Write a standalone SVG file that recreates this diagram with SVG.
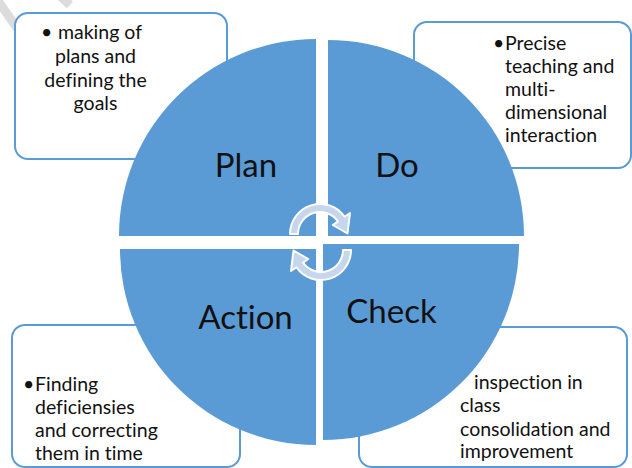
<svg xmlns="http://www.w3.org/2000/svg" width="632" height="468" viewBox="0 0 632 468">
  <defs>
    <style>
      .box { fill: #ffffff; stroke: #5b9bd5; stroke-width: 2; }
      .quad { fill: #5b9bd5; }
      .lbl { font-family: Lato, "Open Sans", "Liberation Sans", sans-serif; font-size: 33px; fill: #111111; text-anchor: middle; font-variant-ligatures: none; }
      .txt { font-family: Lato, "Open Sans", "Liberation Sans", sans-serif; font-size: 19.5px; fill: #111111; font-variant-ligatures: none; }
      .mid { text-anchor: middle; }
      .cyc { fill: #c6d6ed; stroke: #ffffff; stroke-width: 2; stroke-linejoin: round; }
      .mark { stroke: #dcdcdc; stroke-width: 9; fill: none; }
    </style>
    <!-- curved arrow band, centred on its arc centre -->
    <path id="cycle-arrow" d="M -30 0 A 30 30 0 0 1 24.6 -17.2 L 30 -21 L 27.5 -0.5 L 12.8 -9 L 18 -12.6 A 22 22 0 0 0 -22 0 Z"/>
  </defs>

  <rect width="632" height="468" fill="#ffffff"/>

  <!-- faint stray strokes in the upper-left corner -->
  <line class="mark" x1="-4" y1="-2" x2="24" y2="38"/>
  <line class="mark" x1="60" y1="-4" x2="70" y2="5"/>

  <!-- callout boxes (behind the wheel) -->
  <g id="note-plan">
    <rect class="box" x="15" y="13" width="212" height="146" rx="13"/>
    <text class="txt" x="41" y="39">•</text>
    <text class="txt mid" x="100" y="39">making of</text>
    <text class="txt mid" x="95.5" y="63">plans and</text>
    <text class="txt mid" x="95.5" y="87">defining the</text>
    <text class="txt mid" x="95.5" y="110">goals</text>
  </g>

  <g id="note-do">
    <rect class="box" x="414" y="22" width="217" height="146" rx="13"/>
    <text class="txt" x="493" y="49.5">•</text>
    <text class="txt" x="505" y="49.5">Precise</text>
    <text class="txt" x="505" y="72.6">teaching and</text>
    <text class="txt" x="505" y="95.7">multi-</text>
    <text class="txt" x="505" y="118.8">dimensional</text>
    <text class="txt" x="505" y="141.9">interaction</text>
  </g>

  <g id="note-action">
    <rect class="box" x="12" y="325" width="228" height="142" rx="13"/>
    <text class="txt" x="23" y="390.7">•</text>
    <text class="txt" x="35" y="390.7">Finding</text>
    <text class="txt" x="35" y="413.5">deficiensies</text>
    <text class="txt" x="35" y="437">and correcting</text>
    <text class="txt" x="35" y="460">them in time</text>
  </g>

  <g id="note-check">
    <rect class="box" x="359" y="327" width="268" height="140" rx="13"/>
    <text class="txt" x="474" y="389.3">inspection in</text>
    <text class="txt" x="460" y="412">class</text>
    <text class="txt" x="460" y="435.5">consolidation and</text>
    <text class="txt" x="460" y="458.3">improvement</text>
  </g>

  <!-- the four quadrants of the wheel -->
  <g id="plan">
    <path class="quad" d="M316 236 L119 236 A197 197 0 0 1 316 39 Z"/>
    <text class="lbl" x="246" y="177">Plan</text>
  </g>
  <g id="do">
    <path class="quad" d="M328 236 L328 40 A196 196 0 0 1 524 236 Z"/>
    <text class="lbl" x="397" y="177">Do</text>
  </g>
  <g id="action">
    <path class="quad" d="M316 249 L316 445 A196 196 0 0 1 120 249 Z"/>
    <text class="lbl" x="245.5" y="329">Action</text>
  </g>
  <g id="check">
    <path class="quad" d="M323 244 L519 244 A196 196 0 0 1 323 440 Z"/>
    <text class="lbl" x="391.5" y="323">Check</text>
  </g>

  <!-- cycle arrows at the hub -->
  <g id="connectors">
    <use href="#cycle-arrow" class="cyc" transform="translate(320 234)"/>
    <use href="#cycle-arrow" class="cyc" transform="translate(321 250) rotate(180)"/>
  </g>
</svg>
